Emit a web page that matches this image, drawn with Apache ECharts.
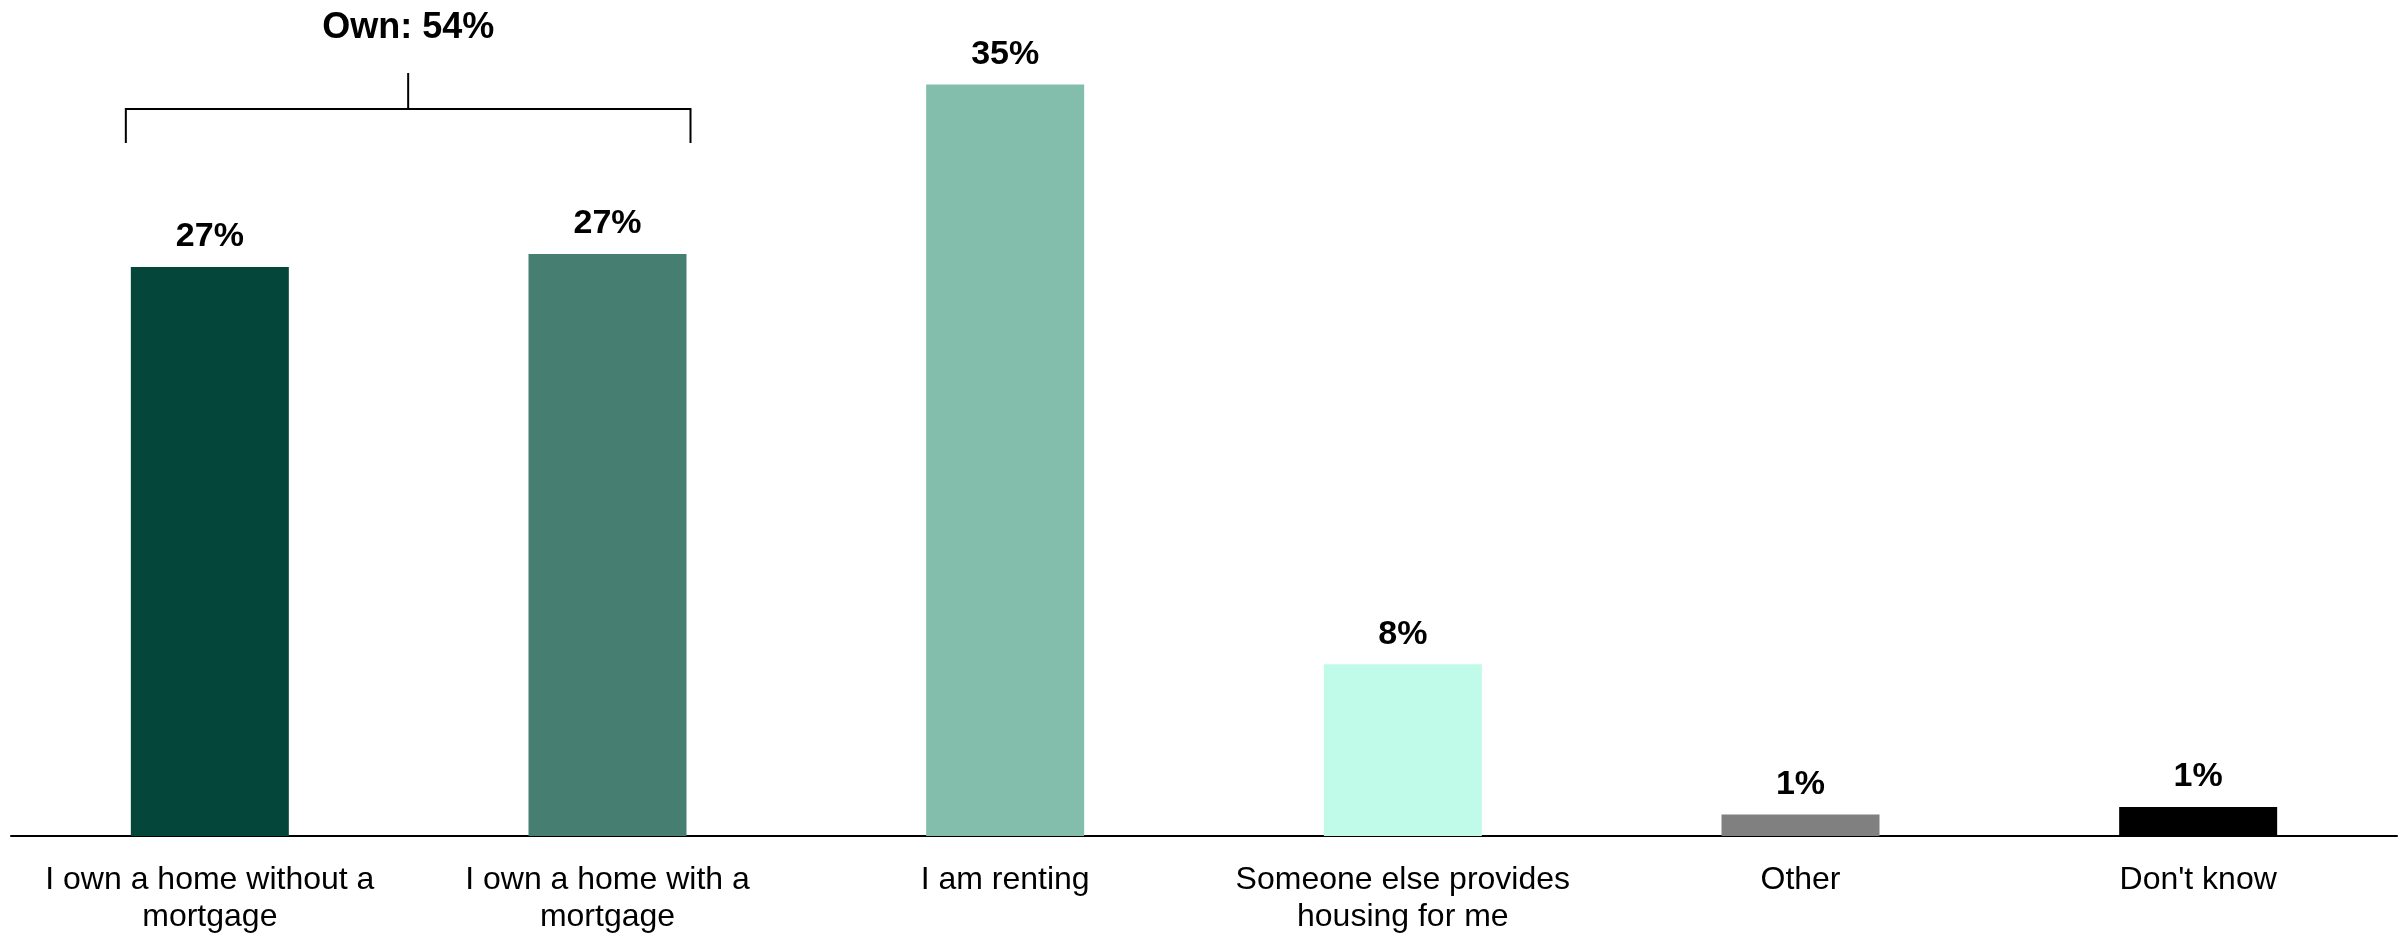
<!DOCTYPE html>
<html>
<head>
<meta charset="utf-8">
<script src="https://cdn.jsdelivr.net/npm/echarts@6/dist/echarts.min.js"></script>
<style>
html,body{margin:0;padding:0;background:#fff;}
#chart{width:2407px;height:936px;}
</style>
</head>
<body>
<div id="chart"></div>
<script>
const categories = [
  "I own a home without a\nmortgage",
  "I own a home with a\nmortgage",
  "I am renting",
  "Someone else provides\nhousing for me",
  "Other",
  "Don't know"
];
const values = [26.5, 27.1, 35.0, 8.0, 1.0, 1.35];
const barColors = ["#04473A", "#467F71", "#82BEAB", "#C0FBEA", "#808080", "#000000"];
const groupLabel = "Own: 54%";
const groupIndices = [0, 1];

const FONT = "'Liberation Sans', Arial, sans-serif";
const chart = echarts.init(document.getElementById('chart'), null, {renderer: 'canvas'});

const option = {
  animation: false,
  backgroundColor: '#ffffff',
  grid: {left: 11, right: 10, top: 20, bottom: 99, containLabel: false},
  xAxis: {
    type: 'category',
    data: categories,
    axisLine: {show: true, lineStyle: {color: '#000000', width: 2}},
    axisTick: {show: false},
    axisLabel: {
      color: '#000000',
      fontFamily: FONT,
      fontSize: 32,
      lineHeight: 37,
      margin: 26,
      interval: 0
    }
  },
  yAxis: {
    type: 'value',
    min: 0,
    max: 38,
    show: false,
    splitLine: {show: false}
  },
  series: [{
    type: 'bar',
    barWidth: 158,
    data: values.map((v, i) => ({value: v, itemStyle: {color: barColors[i]}})),
    label: {
      show: true,
      position: 'top',
      distance: 13,
      color: '#000000',
      fontFamily: FONT,
      fontWeight: 'bold',
      fontSize: 34,
      formatter: p => Math.round(p.value) + '%'
    }
  }]
};
chart.setOption(option);

// Bracket annotation over the grouped "own" bars, positioned from the category axis
function drawBracket() {
  const half = 158 / 2 + 6;
  const xL = chart.convertToPixel({xAxisIndex: 0}, groupIndices[0]) - half + 1;
  const xR = chart.convertToPixel({xAxisIndex: 0}, groupIndices[groupIndices.length - 1]) + half - 2;
  const xM = (xL + xR) / 2;
  const yLine = 109, yEnd = 143, yTop = 73, yText = 28;
  const ls = {stroke: '#000000', lineWidth: 2};
  chart.setOption({
    graphic: [
      {type: 'polyline', shape: {points: [[xL, yEnd], [xL, yLine], [xR, yLine], [xR, yEnd]]}, style: Object.assign({fill: null}, ls), silent: true},
      {type: 'line', shape: {x1: xM, y1: yTop, x2: xM, y2: yLine}, style: ls, silent: true},
      {type: 'text', x: xM, y: yText, style: {text: groupLabel, fill: '#000000', font: 'bold 36px ' + FONT, textAlign: 'center', textVerticalAlign: 'middle'}, silent: true}
    ]
  });
}
drawBracket();
</script>
</body>
</html>
